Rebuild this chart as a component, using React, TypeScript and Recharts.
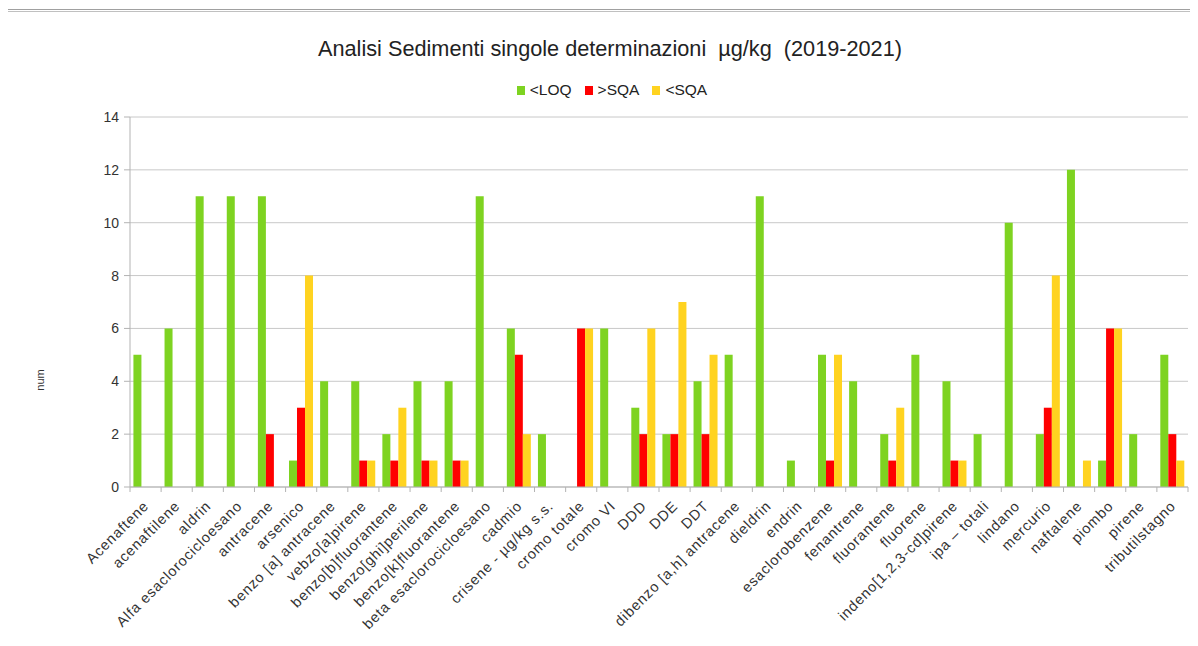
import React from 'react';
import { BarChart, Bar, XAxis, YAxis, CartesianGrid } from 'recharts';

const categories = [
  'Acenaftene', 'acenaftilene', 'aldrin', 'Alfa esaclorocicloesano', 'antracene', 'arsenico',
  'benzo [a] antracene', 'vebzo[a]pirene', 'benzo[b]fluorantene', 'benzo[ghi]perilene',
  'benzo[k]fluorantene', 'beta esaclorocicloesano', 'cadmio', 'crisene - µg/kg s.s.',
  'cromo totale', 'cromo VI', 'DDD', 'DDE', 'DDT', 'dibenzo [a,h] antracene', 'dieldrin',
  'endrin', 'esaclorobenzene', 'fenantrene', 'fluorantene', 'fluorene',
  'indeno[1,2,3-cd]pirene', 'ipa – totali', 'lindano', 'mercurio', 'naftalene', 'piombo',
  'pirene', 'tributilstagno',
];

const loq = [5, 6, 11, 11, 11, 1, 4, 4, 2, 4, 4, 11, 6, 2, 0, 6, 3, 2, 4, 5, 11, 1, 5, 4, 2, 5, 4, 2, 10, 2, 12, 1, 2, 5];
const overSqa = [0, 0, 0, 0, 2, 3, 0, 1, 1, 1, 1, 0, 5, 0, 6, 0, 2, 2, 2, 0, 0, 0, 1, 0, 1, 0, 1, 0, 0, 3, 0, 6, 0, 2];
const underSqa = [0, 0, 0, 0, 0, 8, 0, 1, 3, 1, 1, 0, 2, 0, 6, 0, 6, 7, 5, 0, 0, 0, 5, 0, 3, 0, 1, 0, 0, 8, 1, 6, 0, 1];

const yTicks = [0, 2, 4, 6, 8, 10, 12, 14];

const seriesInfo = [
  { key: 'loq', label: '<LOQ', color: '#7ed321' },
  { key: 'over', label: '>SQA', color: '#ff0000' },
  { key: 'under', label: '<SQA', color: '#ffd320' },
];

const data = categories.map((name, i) => ({
  name,
  loq: loq[i],
  over: overSqa[i],
  under: underSqa[i],
}));

const FONT = '"Liberation Sans", Arial, sans-serif';

function CategoryTick(props: any) {
  const { x, y, payload, index } = props;
  const half = payload.offset || 0;
  const tx = x + 4;
  const ty = y + 12;
  return (
    <g>
      <line x1={x - half} x2={x - half} y1={y - 8} y2={y - 3} stroke="#b3b3b3" />
      {index === categories.length - 1 && (
        <line x1={x + half} x2={x + half} y1={y - 8} y2={y - 3} stroke="#b3b3b3" />
      )}
      <text
        x={tx}
        y={ty}
        textAnchor="end"
        transform={`rotate(-45, ${tx}, ${ty})`}
        fontSize={14.5}
        letterSpacing={0.8}
        fontFamily={FONT}
        fill="#333"
      >
        {payload.value}
      </text>
    </g>
  );
}

export default function App() {
  return (
    <div style={{ position: 'relative', width: 1198, height: 646, margin: -8, background: '#fff', fontFamily: FONT, overflow: 'hidden' }}>
      <div style={{ position: 'absolute', left: 5, right: 0, top: 9, height: 1, background: '#a0a0a0' }} />
      <div style={{ position: 'absolute', left: 5, right: 0, top: 11, height: 1, background: '#c0c0c0' }} />
      <svg width={1198} height={646} style={{ position: 'absolute', left: 0, top: 0 }}>
        <line x1={6.5} x2={6.5} y1={11} y2={646} stroke="#999" strokeWidth={1} />
      </svg>
      <div style={{ position: 'absolute', left: 0, right: 0, top: 36, textAlign: 'center', fontSize: 21.7, color: '#222', paddingLeft: 22 }}>
        Analisi Sedimenti singole determinazioni&nbsp; µg/kg&nbsp; (2019-2021)
      </div>
      <div style={{ position: 'absolute', left: 0, right: 0, top: 81, display: 'flex', justifyContent: 'center', gap: 13, fontSize: 15.5, color: '#222', paddingLeft: 26 }}>
        {seriesInfo.map((s) => (
          <span key={s.key} style={{ display: 'flex', alignItems: 'center', gap: 5 }}>
            <span style={{ display: 'inline-block', width: 8, height: 9, background: s.color }} />
            {s.label}
          </span>
        ))}
      </div>
      <div style={{ position: 'absolute', left: 0, top: 0 }}>
        <BarChart
          width={1198}
          height={646}
          data={data}
          margin={{ top: 117, right: 10, bottom: 0, left: 70 }}
          barCategoryGap="11%"
          barGap={0}
        >
          <CartesianGrid horizontal vertical={false} stroke="#c8c8c8" />
          <XAxis
            dataKey="name"
            interval={0}
            height={159}
            tick={<CategoryTick />}
            tickLine={false}
            axisLine={{ stroke: '#b3b3b3' }}
          />
          <YAxis
            width={60}
            domain={[0, 14]}
            ticks={yTicks}
            interval={0}
            tickSize={6}
            tickMargin={5}
            tickLine={{ stroke: '#b3b3b3' }}
            axisLine={{ stroke: '#b3b3b3' }}
            tick={{ fontSize: 14, fill: '#333', fontFamily: FONT }}
            label={{ value: 'num', angle: -90, position: 'insideLeft', offset: -30, dy: 78, style: { fontSize: 11, fill: '#333', fontFamily: FONT, textAnchor: 'middle' } }}
          />
          {seriesInfo.map((s) => (
            <Bar key={s.key} dataKey={s.key} name={s.label} fill={s.color} isAnimationActive={false} />
          ))}
        </BarChart>
      </div>
    </div>
  );
}
